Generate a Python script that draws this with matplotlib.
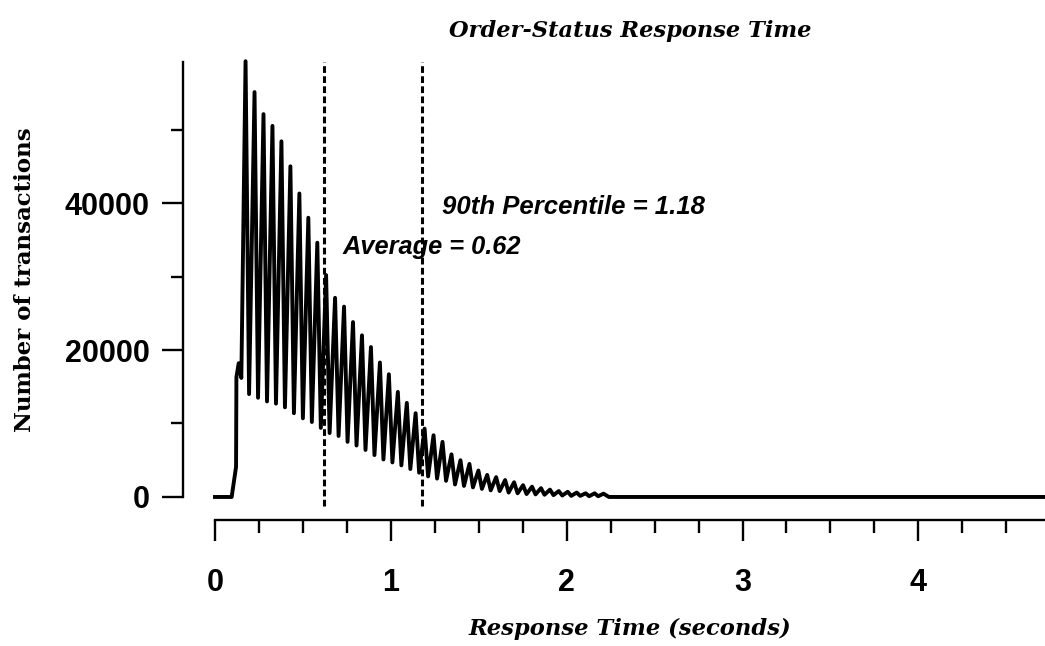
import matplotlib
matplotlib.use("Agg")
import matplotlib.pyplot as plt
from matplotlib.ticker import MultipleLocator, FixedLocator

# ---- data ----
onset_x = [0.0, 0.095, 0.120, 0.122, 0.135, 0.150]
onset_y = [0, 0, 4100, 16300, 18200, 16200]

peak_x = [0.174, 0.225, 0.276, 0.327, 0.378, 0.429, 0.480, 0.531, 0.582, 0.632,
          0.683, 0.734, 0.785, 0.836, 0.887, 0.938, 0.989, 1.040, 1.091, 1.141,
          1.192, 1.243, 1.294, 1.345, 1.396, 1.447, 1.498, 1.548, 1.599, 1.650,
          1.701, 1.752, 1.803, 1.854, 1.905, 1.955, 2.006, 2.057, 2.108, 2.159,
          2.210]
peak_y = [59300, 55100, 52100, 50500, 48400, 45000, 41300, 38000, 34600, 30200,
          27100, 25900, 23800, 22000, 20400, 18300, 16700, 14300, 12800, 11400,
          9300, 8400, 7500, 5800, 5000, 4500, 3600, 3000, 2700, 2300,
          2000, 1600, 1400, 1200, 1000, 800, 700, 600, 500, 500,
          450]
trough_x = [0.194, 0.245, 0.296, 0.347, 0.398, 0.449, 0.500, 0.551, 0.602, 0.652,
            0.703, 0.754, 0.805, 0.856, 0.907, 0.958, 1.009, 1.060, 1.111, 1.161,
            1.212, 1.263, 1.314, 1.365, 1.416, 1.467, 1.518, 1.568, 1.619, 1.670,
            1.721, 1.772, 1.823, 1.874, 1.925, 1.975, 2.026, 2.077, 2.128, 2.179,
            2.240]
trough_y = [14000, 13500, 13000, 12700, 12200, 11400, 10700, 10200, 9400, 8700,
            8300, 7500, 7000, 6400, 5700, 5100, 4700, 4300, 3800, 3300,
            2800, 2500, 2200, 1700, 1500, 1300, 1100, 900, 800, 600,
            500, 400, 350, 300, 250, 200, 150, 150, 100, 100,
            0]
tail_x = [2.25, 4.72]
tail_y = [0, 0]

average = 0.62
p90 = 1.18

x_ticks = [0, 1, 2, 3, 4]
y_ticks = [0, 20000, 40000]

# ---- assemble series ----
xs = list(onset_x)
ys = list(onset_y)
for px_, py_, tx_, ty_ in zip(peak_x, peak_y, trough_x, trough_y):
    xs += [px_, tx_]
    ys += [py_, ty_]
xs += tail_x
ys += tail_y

fig = plt.figure(figsize=(10.45, 6.46), dpi=100)
ax = fig.add_axes([0.2057, 0.2307, 0.7943, 0.6734])

ax.plot(xs, ys, color="black", lw=2.8, clip_on=False, zorder=3)

for v in (average, p90):
    ax.axvline(v, ymin=-0.02, ymax=1.0, color="black", lw=2.2,
               linestyle=(0, (2.2, 1.1)), clip_on=False, zorder=2)

ax.set_xlim(0, 4.72)
ax.set_ylim(0, 59200)

for s in ("top", "right"):
    ax.spines[s].set_visible(False)
ax.spines["left"].set_position(("outward", 23))
ax.spines["bottom"].set_position(("outward", 16.5))
ax.spines["left"].set_linewidth(1.7)
ax.spines["bottom"].set_linewidth(1.7)
ax.spines["left"].set_bounds(0, 59200)

ax.xaxis.set_major_locator(FixedLocator(x_ticks))
ax.xaxis.set_minor_locator(MultipleLocator(0.25))
ax.yaxis.set_major_locator(FixedLocator(y_ticks))
ax.yaxis.set_minor_locator(MultipleLocator(10000))

ax.tick_params(axis="both", which="major", length=15, width=1.7, direction="out")
ax.tick_params(axis="both", which="minor", length=9, width=1.7, direction="out")
ax.tick_params(axis="x", which="major", pad=20)
ax.tick_params(axis="y", which="major", pad=9)

for lab in ax.get_xticklabels() + ax.get_yticklabels():
    lab.set_fontfamily("Liberation Sans")
    lab.set_fontweight("bold")
    lab.set_fontsize(22)

ax.set_title("Order-Status Response Time", fontfamily="DejaVu Serif",
             fontweight="bold", fontstyle="italic", fontsize=16.2, pad=18)
ax.set_xlabel("Response Time (seconds)", fontfamily="DejaVu Serif",
              fontweight="bold", fontstyle="italic", fontsize=16.3, labelpad=14)
ax.set_ylabel("Number of transactions", fontfamily="DejaVu Serif",
              fontweight="bold", fontsize=16.5, labelpad=21)

ax.text(1.29, 39500, "90th Percentile = 1.18", fontfamily="Liberation Sans",
        fontweight="bold", fontstyle="italic", fontsize=18.5, va="center", ha="left")
ax.text(0.727, 34000, "Average = 0.62", fontfamily="Liberation Sans",
        fontweight="bold", fontstyle="italic", fontsize=18.3, va="center", ha="left")

fig.savefig("out.png", dpi=100)
